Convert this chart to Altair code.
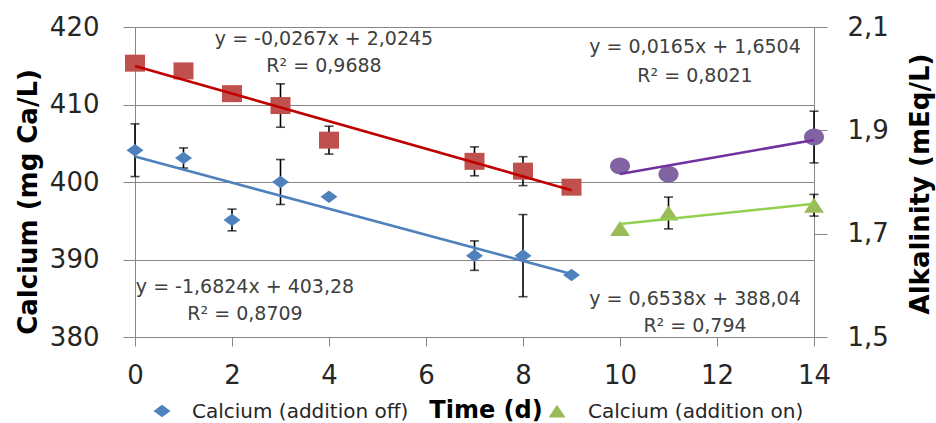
import altair as alt
import pandas as pd

# ---- data -------------------------------------------------------------
# days 0-9: supplement switched off
days_off = [0, 1, 2, 3, 4, 7, 8, 9]
calcium_off = [404.1, 403.1, 395.1, 400.0, 398.1, 390.5, 390.5, 388.0]
calcium_off_err = [3.4, 1.3, 1.4, 2.9, 0.0, 1.9, 5.3, 0.0]
alk_off = [2.030, 2.015, 1.971, 1.948, 1.881, 1.840, 1.821, 1.790]
alk_off_err = [0.0, 0.0, 0.0, 0.042, 0.027, 0.028, 0.028, 0.0]

# days 10-14: supplement switched on
days_on = [10, 11, 14]
calcium_on = [394.0, 396.0, 397.0]
calcium_on_err = [0.0, 2.05, 1.4]
alk_on = [1.831, 1.815, 1.887]
alk_on_err = [0.0, 0.0, 0.05]

# linear trendlines: slope, intercept, first day, last day, R²
trend_ca_off = (-1.6824, 403.28, 0, 9, 0.8709)
trend_ca_on = (0.6538, 388.04, 10, 14, 0.794)
trend_alk_off = (-0.0267, 2.0245, 0, 9, 0.9688)
trend_alk_on = (0.0165, 1.6504, 10, 14, 0.8021)

ca_ticks = [380, 390, 400, 410, 420]
alk_ticks = [1.5, 1.7, 1.9, 2.1]
day_ticks = [0, 2, 4, 6, 8, 10, 12, 14]

legend_off = "Calcium (addition off)"
legend_on = "Calcium (addition on)"
x_title = "Time (d)"
ca_title = "Calcium (mg Ca/L)"
alk_title = "Alkalinity (mEq/L)"

# ---- styling ----------------------------------------------------------
FONT = "DejaVu Sans"
GRID = "#868686"
TXT = "#262626"
EQ = "#404040"

BLUE, BLUE_LINE = "#4F81BD", "#4F81BD"
RED, RED_LINE = "#C0504D", "#C00000"
PURPLE, PURPLE_LINE = "#8064A2", "#7030A0"
GREEN, GREEN_LINE = "#9BBB59", "#92D050"

DIAMOND = "M-1,0L0,-0.74L1,0L0,0.74Z"
SQUARE = "M-1,-0.85L1,-0.85L1,0.85L-1,0.85Z"
ELLIPSE = ("M-1,0C-1,-0.47,-0.55,-0.85,0,-0.85C0.55,-0.85,1,-0.47,1,0"
           "C1,0.47,0.55,0.85,0,0.85C-0.55,0.85,-1,0.47,-1,0Z")
TRIANGLE = "M0,-0.75L1,0.75L-1,0.75Z"


def frame(days, vals, errs):
    return pd.DataFrame({
        "day": days,
        "value": vals,
        "lo": [v - e for v, e in zip(vals, errs)],
        "hi": [v + e for v, e in zip(vals, errs)],
        "err": errs,
    })


def trend_frame(tr):
    slope, icpt, d0, d1, _ = tr
    return pd.DataFrame({"day": [d0, d1], "value": [icpt + slope * d0, icpt + slope * d1]})


def fmt(v):
    return str(v).replace(".", ",")


def equation(tr):
    slope, icpt, *_ = tr
    return f"y = {fmt(slope)}x + {fmt(icpt)}"


def r2_text(tr):
    return f"R² = {fmt(tr[4])}"


x_axis = alt.Axis(title=None, values=day_ticks, grid=False, domainColor=GRID,
                  tickColor=GRID, tickSize=9, labelFont=FONT, labelFontSize=26,
                  labelColor=TXT, labelPadding=16, labelFlush=False)
X = lambda: alt.X("day:Q", scale=alt.Scale(domain=[0, 14], nice=False), axis=x_axis)

ca_scale = alt.Scale(domain=[380, 420], nice=False, zero=False)
ca_axis = alt.Axis(title=None, orient="left", values=ca_ticks, grid=True,
                   gridColor=GRID, gridWidth=1, domainColor=GRID, tickColor=GRID,
                   tickSize=12, labelFont=FONT, labelFontSize=26, labelColor=TXT,
                   labelPadding=24, labelFlush=False)
alk_scale = alt.Scale(domain=[1.5, 2.1], nice=False, zero=False)
alk_axis = alt.Axis(title=None, orient="right", values=alk_ticks, grid=False,
                    domainColor=GRID, tickColor=GRID, tickSize=13, labelFont=FONT,
                    labelFontSize=26, labelColor=TXT, labelPadding=20, labelFlush=False,
                    labelExpr="replace(format(datum.value, '.1f'), '.', ',')")


def series(df, trend_df, scale, axis, shape, size, color, line_color):
    err_df = df[df["err"] > 0]
    ycol = lambda f: alt.Y(f"{f}:Q", scale=scale, axis=axis)
    bars = alt.Chart(err_df).mark_rule(color="black", strokeWidth=1.6).encode(
        x=X(), y=ycol("lo"), y2="hi")
    cap_lo = alt.Chart(err_df).mark_tick(orient="horizontal", color="black",
                                         size=9, thickness=1.6).encode(x=X(), y=ycol("lo"))
    cap_hi = alt.Chart(err_df).mark_tick(orient="horizontal", color="black",
                                         size=9, thickness=1.6).encode(x=X(), y=ycol("hi"))
    pts = alt.Chart(df).mark_point(shape=shape, size=size, filled=True, opacity=1,
                                   color=color).encode(x=X(), y=ycol("value"))
    line = alt.Chart(trend_df).mark_line(color=line_color, strokeWidth=2.6).encode(
        x=X(), y=ycol("value"))
    return [bars, cap_lo, cap_hi, pts, line]


calcium_layers = (
    series(frame(days_off, calcium_off, calcium_off_err), trend_frame(trend_ca_off),
           ca_scale, ca_axis, DIAMOND, 289, BLUE, BLUE_LINE)
    + series(frame(days_on, calcium_on, calcium_on_err), trend_frame(trend_ca_on),
             ca_scale, ca_axis, TRIANGLE, 400, GREEN, GREEN_LINE)
)
alk_layers = (
    series(frame(days_off, alk_off, alk_off_err), trend_frame(trend_alk_off),
           alk_scale, alk_axis, SQUARE, 400, RED, RED_LINE)
    + series(frame(days_on, alk_on, alk_on_err), trend_frame(trend_alk_on),
             alk_scale, alk_axis, ELLIPSE, 400, PURPLE, PURPLE_LINE)
)


def label(text, x, y, size=19, color=EQ, align="center", bold=False, angle=0,
          baseline="alphabetic"):
    mark = alt.Chart(pd.DataFrame({"t": [text]})).mark_text(
        font=FONT, fontSize=size, color=color, align=align, baseline=baseline,
        fontWeight="bold" if bold else "normal", angle=angle)
    return mark.encode(x=alt.value(x), y=alt.value(y), text="t:N")


def marker(shape, color, x, y, size):
    return alt.Chart(pd.DataFrame({"k": [0]})).mark_point(
        shape=shape, size=size, filled=True, opacity=1, color=color).encode(
        x=alt.value(x), y=alt.value(y))


annotations = [
    label(equation(trend_alk_off), 189, 18), label(r2_text(trend_alk_off), 189, 45),
    label(equation(trend_alk_on), 560, 26), label(r2_text(trend_alk_on), 560, 55),
    label(equation(trend_ca_off), 110, 266), label(r2_text(trend_ca_off), 110, 293),
    label(equation(trend_ca_on), 560, 278), label(r2_text(trend_ca_on), 560, 305),
    # legend entries and the day-axis title share the bottom row
    marker(DIAMOND, BLUE, 27, 384, 289),
    label(legend_off, 57, 391, size=20, color=TXT, align="left"),
    label(x_title, 351, 391, size=24, color="black", bold=True),
    marker(TRIANGLE, GREEN, 422, 384, 289),
    label(legend_on, 453, 391, size=20, color=TXT, align="left"),
    # vertical axis titles
    label(ca_title, -106, 175, size=26, color="black", bold=True, angle=270,
          baseline="middle"),
    label(alk_title, 786, 157, size=26, color="black", bold=True, angle=270,
          baseline="middle"),
]

chart = alt.layer(
    alt.layer(*calcium_layers),
    alt.layer(*alk_layers),
    alt.layer(*annotations),
).resolve_scale(y="independent").properties(
    width=679,
    height=310,
    padding={"left": 135, "top": 27, "right": 122, "bottom": 86},
    autosize=alt.AutoSizeParams(type="none"),
    background="white",
).configure_view(strokeWidth=0)

chart.save("out.html", embed_options={"renderer": "svg", "actions": False})
